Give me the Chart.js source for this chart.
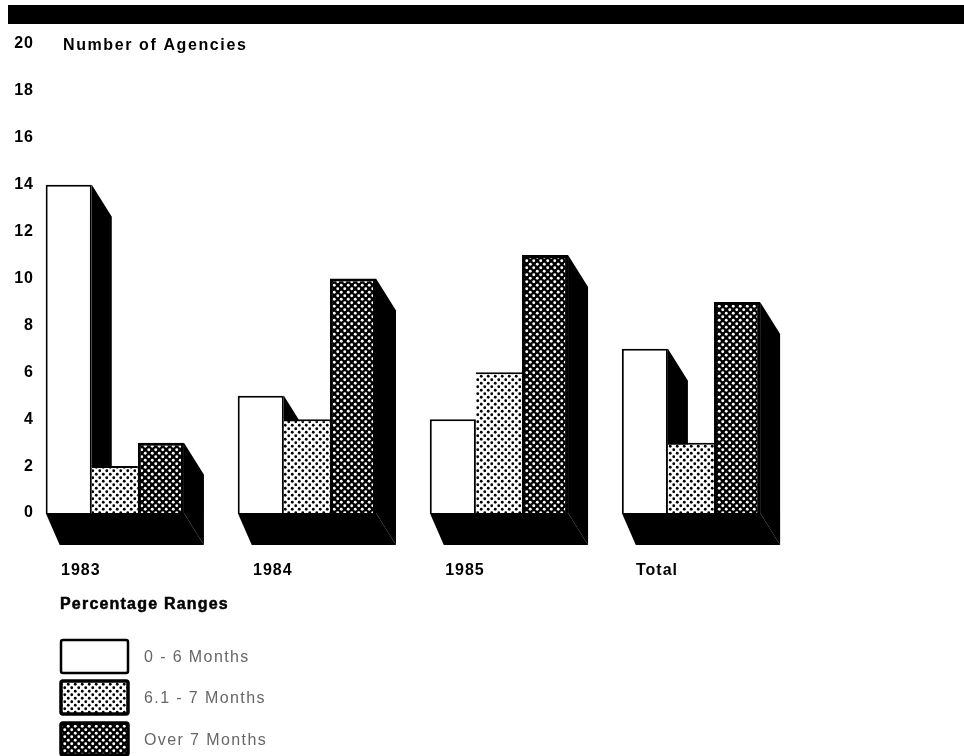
<!DOCTYPE html>
<html>
<head>
<meta charset="utf-8">
<title>Number of Agencies</title>
<script src="https://cdn.jsdelivr.net/npm/chart.js@4"></script>
<style>
    html, body { margin: 0; background: #fff; }
    canvas { display: block; filter: blur(0.4px); }
</style>
</head>
<body>
<canvas id="chart" width="964" height="756"></canvas>
<script>
const categories = ["1983", "1984", "1985", "Total"];
const seriesNames = ["0 - 6 Months", "6.1 - 7 Months", "Over 7 Months"];
const lowRange = [14, 5, 4, 7];
const midRange = [2, 4, 6, 3];
const highRange = [3, 10, 11, 9];
const yTitle = "Number of Agencies";
const legendTitle = "Percentage Ranges";

const DEPTH_X = 20;
const DEPTH_Y = 32;
const TILE = 7;
const BOLD = "bold 16px 'Liberation Sans'";

// two staggered round dots on a solid ground
function makeTile(ground, dot, radius) {
    const tile = document.createElement("canvas");
    tile.width = TILE;
    tile.height = TILE;
    const c = tile.getContext("2d");
    c.fillStyle = ground;
    c.fillRect(0, 0, TILE, TILE);
    c.fillStyle = dot;
    [[1.75, 1.75], [5.25, 5.25]].forEach(p => {
        c.beginPath();
        c.arc(p[0], p[1], radius, 0, Math.PI * 2);
        c.fill();
    });
    return document.getElementById("chart").getContext("2d").createPattern(tile, "repeat");
}

const dots = makeTile("#fff", "#000", 1.4);
const hatch = makeTile("#000", "#fff", 1.45);

function poly(ctx, pts) {
    ctx.beginPath();
    pts.forEach((p, i) => i ? ctx.lineTo(p[0], p[1]) : ctx.moveTo(p[0], p[1]));
    ctx.closePath();
    ctx.fill();
}

// black side walls and floor behind the bars
const depthPlugin = {
    id: "depth",
    beforeDatasetsDraw(chart) {
        const ctx = chart.ctx;
        ctx.save();
        ctx.fillStyle = "#000";
        const metas = chart.data.datasets.map((d, i) => chart.getDatasetMeta(i));
        categories.forEach((c, i) => {
            metas.forEach(meta => {
                const bar = meta.data[i];
                const right = bar.x + bar.width / 2;
                poly(ctx, [
                    [right, bar.y],
                    [right + DEPTH_X, bar.y + DEPTH_Y],
                    [right + DEPTH_X, bar.base + DEPTH_Y],
                    [right, bar.base]
                ]);
            });
            const first = metas[0].data[i];
            const last = metas[metas.length - 1].data[i];
            const left = first.x - first.width / 2;
            const right = last.x + last.width / 2;
            poly(ctx, [
                [left, first.base],
                [left + 14, first.base + DEPTH_Y],
                [right + DEPTH_X, first.base + DEPTH_Y],
                [right, first.base]
            ]);
        });
        ctx.restore();
    }
};

// top rule, axis heading and the legend block under the chart
const pagePlugin = {
    id: "page",
    beforeDraw(chart) {
        const ctx = chart.ctx;
        ctx.save();
        ctx.fillStyle = "#000";
        ctx.fillRect(8, 5, 956, 19);
        ctx.restore();
        ctx.letterSpacing = "1px"; // axis labels pick this up
    },
    afterDraw(chart) {
        const ctx = chart.ctx;
        ctx.save();
        ctx.fillStyle = "#000";
        ctx.strokeStyle = "#000";
        ctx.textBaseline = "middle";
        ctx.textAlign = "left";
        ctx.font = BOLD;
        ctx.letterSpacing = "1.6px";
        ctx.fillText(yTitle, 63, 46);
        ctx.letterSpacing = "1.2px";
        ctx.lineWidth = 0.5;
        ctx.fillText(legendTitle, 60, 605);
        ctx.strokeText(legendTitle, 60, 605);

        const tops = [640, 681, 723];
        chart.data.datasets.forEach((d, i) => {
            const h = i === 2 ? 32 : 33;
            ctx.beginPath();
            ctx.roundRect(61, tops[i], 67, h, 2);
            ctx.fillStyle = d.backgroundColor;
            ctx.fill();
            ctx.lineWidth = i === 0 ? 2.5 : 3.5;
            ctx.stroke();
            ctx.fillStyle = "#666";
            ctx.font = "16px 'Liberation Sans'";
            ctx.letterSpacing = "1.4px";
            ctx.fillText(d.label, 144, tops[i] + 18);
        });
        ctx.restore();
    }
};

new Chart(document.getElementById("chart"), {
    type: "bar",
    data: {
        datasets: [lowRange, midRange, highRange].map((values, s) => ({
            label: seriesNames[s],
            data: values.map((v, i) => ({x: i, y: v})),
            backgroundColor: ["#fff", dots, hatch][s],
            borderColor: "#000",
            borderWidth: [
                {top: 2, left: 2, right: 2, bottom: 0},
                {top: 2, left: 0, right: 0, bottom: 0},
                {top: 3, left: 3, right: 3, bottom: 0}
            ][s],
            borderSkipped: false,
            categoryPercentage: 0.72,
            barPercentage: 1
        }))
    },
    options: {
        responsive: false,
        animation: false,
        devicePixelRatio: 1,
        layout: {padding: {top: 44, right: 177, bottom: 0, left: 0}},
        plugins: {legend: {display: false}, tooltip: {enabled: false}},
        scales: {
            x: {
                type: "linear",
                offset: false,
                min: -0.4,
                max: 3.5,
                grid: {display: false, tickLength: 0},
                border: {display: false},
                afterBuildTicks: scale => { scale.ticks = categories.map((c, i) => ({value: i})); },
                afterFit: scale => { scale.height = 243; },
                ticks: {
                    autoSkip: false,
                    maxRotation: 0,
                    padding: 48,
                    labelOffset: -34,
                    color: "#000",
                    font: {family: "'Liberation Sans'", size: 16, weight: "bold"},
                    callback: value => categories[value]
                }
            },
            y: {
                min: 0,
                max: 20,
                grid: {display: false, tickLength: 0},
                border: {display: false},
                afterFit: scale => { scale.width = 38; },
                ticks: {
                    stepSize: 2,
                    padding: 4,
                    color: "#000",
                    font: {family: "'Liberation Sans'", size: 16, weight: "bold"}
                }
            }
        }
    },
    plugins: [depthPlugin, pagePlugin]
});
</script>
</body>
</html>
